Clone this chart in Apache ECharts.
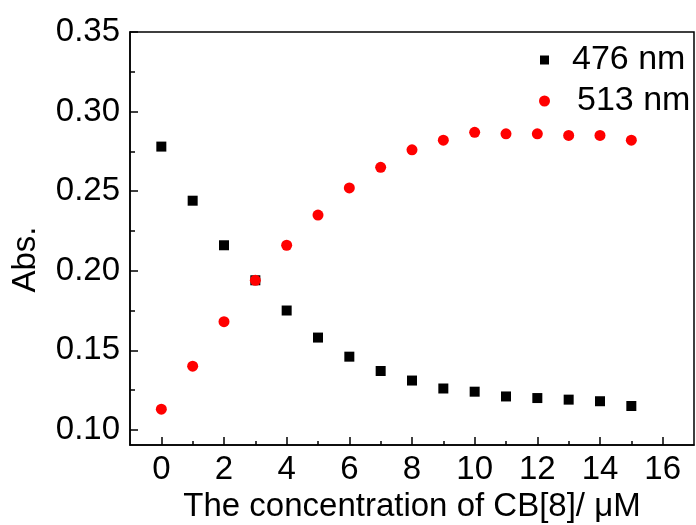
<!DOCTYPE html>
<html>
<head>
<meta charset="utf-8">
<script src="https://cdn.jsdelivr.net/npm/echarts@6/dist/echarts.min.js"></script>
<style>
  html, body { margin: 0; padding: 0; background: #fff; }
  #chart { width: 696px; height: 525px; }
</style>
</head>
<body>
<div id="chart"></div>
<script>
// CB[8] titration: absorbance at two wavelengths
const concentration = [0, 1, 2, 3, 4, 5, 6, 7, 8, 9, 10, 11, 12, 13, 14, 15];
const abs476 = [0.278, 0.244, 0.216, 0.194, 0.175, 0.158, 0.146, 0.137, 0.131, 0.126, 0.124, 0.121, 0.120, 0.119, 0.118, 0.115];
const abs513 = [0.113, 0.140, 0.168, 0.194, 0.216, 0.235, 0.252, 0.265, 0.276, 0.282, 0.287, 0.286, 0.286, 0.285, 0.285, 0.282];

const xMajorTicks = [0, 2, 4, 6, 8, 10, 12, 14, 16];
const xMinorTicks = [1, 3, 5, 7, 9, 11, 13, 15];
const yMajorTicks = [0.10, 0.15, 0.20, 0.25, 0.30, 0.35];
const yMinorTicks = [0.125, 0.175, 0.225, 0.275, 0.325];

const seriesNames = ['476 nm', '513 nm'];

const FONT = '"Liberation Sans", Arial, Helvetica, sans-serif';
const X_MIN = -1, X_MAX = 17;
const Y_MIN = 0.0905, Y_MAX = 0.35;

const pairs = (ys) => concentration.map((x, i) => [x, ys[i]]);

const chart = echarts.init(document.getElementById('chart'), null, { renderer: 'canvas' });

const baseX = {
  type: 'value', min: X_MIN, max: X_MAX, position: 'bottom',
  splitLine: { show: false }
};
const baseY = {
  type: 'value', min: Y_MIN, max: Y_MAX, position: 'left',
  splitLine: { show: false }
};

chart.setOption({
  animation: false,
  backgroundColor: '#fff',
  textStyle: { fontFamily: FONT },
  grid: {
    left: 130, top: 32, right: 2, bottom: 80,
    outerBoundsMode: 'none',
    show: true, borderColor: '#000', borderWidth: 1.5, backgroundColor: 'transparent'
  },
  legend: [
    {
      data: [{ name: seriesNames[0], icon: 'rect' }],
      left: 540, top: 43, padding: 0, orient: 'vertical',
      itemWidth: 9, itemHeight: 9,
      textStyle: { fontFamily: FONT, fontSize: 34, color: '#000', padding: [0, 0, 0, 18] }
    },
    {
      data: [{ name: seriesNames[1], icon: 'circle' }],
      left: 539, top: 84, padding: 0, orient: 'vertical',
      itemWidth: 11, itemHeight: 11,
      textStyle: { fontFamily: FONT, fontSize: 34, color: '#000', padding: [0, 0, 0, 22] }
    }
  ],
  xAxis: [
    Object.assign({}, baseX, {
      name: 'The concentration of CB[8]/ \u03bcM',
      nameLocation: 'middle', nameGap: 44,
      nameTextStyle: { fontFamily: FONT, fontSize: 33, color: '#000' },
      axisLine: { onZero: false, lineStyle: { color: '#000', width: 1.5 } },
      axisTick: { inside: true, length: 8, customValues: xMajorTicks, lineStyle: { color: '#000', width: 1.5 } },
      axisLabel: { customValues: xMajorTicks, margin: 8, fontFamily: FONT, fontSize: 33, color: '#000' }
    }),
    Object.assign({}, baseX, {
      axisLine: { show: false, onZero: false },
      axisTick: { inside: true, length: 4, customValues: xMinorTicks, lineStyle: { color: '#000', width: 1.5 } },
      axisLabel: { show: false }
    })
  ],
  yAxis: [
    Object.assign({}, baseY, {
      name: 'Abs.',
      nameLocation: 'middle', nameGap: 88, nameRotate: 90,
      nameTextStyle: { fontFamily: FONT, fontSize: 33, color: '#000', padding: [0, 42, 0, 0] },
      axisLine: { onZero: false, lineStyle: { color: '#000', width: 1.5 } },
      axisTick: { inside: true, length: 8, customValues: yMajorTicks, lineStyle: { color: '#000', width: 1.5 } },
      axisLabel: {
        customValues: yMajorTicks, margin: 10, fontFamily: FONT, fontSize: 33, color: '#000',
        formatter: (v) => v.toFixed(2)
      }
    }),
    Object.assign({}, baseY, {
      axisLine: { show: false, onZero: false },
      axisTick: { inside: true, length: 5, customValues: yMinorTicks, lineStyle: { color: '#000', width: 1.5 } },
      axisLabel: { show: false }
    })
  ],
  series: [
    {
      name: seriesNames[0], type: 'scatter', symbol: 'rect', symbolSize: 10,
      xAxisIndex: 0, yAxisIndex: 0,
      itemStyle: { color: '#000', opacity: 1 },
      data: pairs(abs476)
    },
    {
      name: seriesNames[1], type: 'scatter', symbol: 'circle', symbolSize: 11,
      xAxisIndex: 0, yAxisIndex: 0,
      itemStyle: { color: '#ff0000', opacity: 1 },
      data: pairs(abs513)
    }
  ]
});
</script>
</body>
</html>
